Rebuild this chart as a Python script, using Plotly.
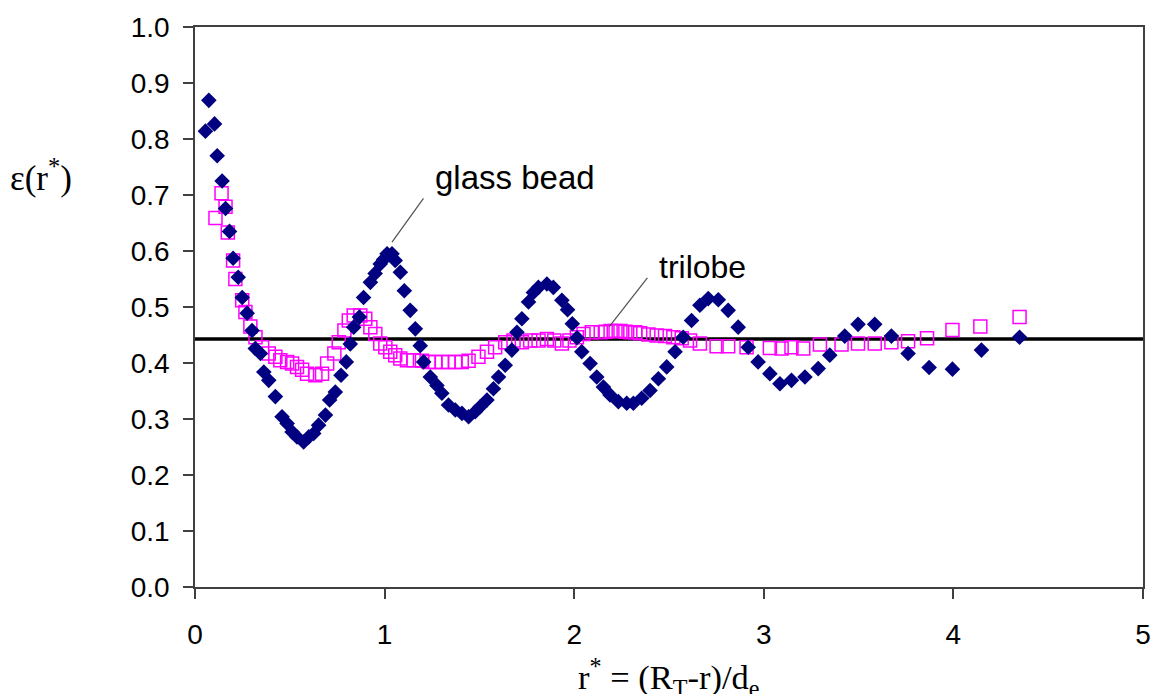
import plotly.graph_objects as go

# ---- data ----
glass_x = [0.055, 0.073, 0.103, 0.117, 0.143, 0.161, 0.182, 0.201, 0.228, 0.249,
           0.275, 0.301, 0.318, 0.345, 0.363, 0.389, 0.424, 0.459, 0.486, 0.512,
           0.538, 0.573, 0.600, 0.626, 0.652, 0.688, 0.710, 0.740, 0.770, 0.798,
           0.819, 0.837, 0.867, 0.889, 0.925, 0.950, 0.977, 0.995, 1.013, 1.039,
           1.056, 1.083, 1.104, 1.135, 1.162, 1.188, 1.206, 1.241, 1.276, 1.302,
           1.337, 1.373, 1.408, 1.443, 1.478, 1.504, 1.540, 1.574, 1.601, 1.636,
           1.671, 1.698, 1.724, 1.759, 1.785, 1.811, 1.856, 1.890, 1.935, 1.965,
           1.990, 2.015, 2.040, 2.084, 2.119, 2.154, 2.189, 2.233, 2.277, 2.312,
           2.356, 2.400, 2.444, 2.488, 2.532, 2.575, 2.619, 2.663, 2.707, 2.760,
           2.812, 2.865, 2.918, 2.970, 3.032, 3.085, 3.146, 3.217, 3.287, 3.348,
           3.427, 3.497, 3.585, 3.673, 3.761, 3.872, 3.995, 4.148, 4.349]
glass_y = [0.814, 0.869, 0.827, 0.770, 0.725, 0.676, 0.635, 0.587, 0.553, 0.517,
           0.489, 0.458, 0.426, 0.417, 0.384, 0.369, 0.340, 0.304, 0.292, 0.277,
           0.268, 0.259, 0.268, 0.274, 0.289, 0.307, 0.334, 0.348, 0.378, 0.402,
           0.434, 0.464, 0.482, 0.517, 0.544, 0.560, 0.577, 0.585, 0.595, 0.595,
           0.583, 0.562, 0.529, 0.494, 0.461, 0.431, 0.402, 0.375, 0.360, 0.346,
           0.325, 0.316, 0.310, 0.304, 0.313, 0.322, 0.334, 0.354, 0.375, 0.396,
           0.423, 0.455, 0.479, 0.509, 0.526, 0.535, 0.541, 0.535, 0.512, 0.495,
           0.470, 0.445, 0.420, 0.399, 0.375, 0.357, 0.343, 0.331, 0.328, 0.328,
           0.337, 0.351, 0.372, 0.393, 0.420, 0.446, 0.476, 0.503, 0.515, 0.513,
           0.494, 0.464, 0.428, 0.402, 0.381, 0.363, 0.369, 0.375, 0.390, 0.414,
           0.448, 0.469, 0.469, 0.448, 0.417, 0.392, 0.389, 0.423, 0.446]

trilobe_x = [0.108, 0.140, 0.161, 0.173, 0.201, 0.213, 0.249, 0.266, 0.292, 0.319,
             0.354, 0.389, 0.424, 0.450, 0.486, 0.512, 0.538, 0.565, 0.591, 0.635,
             0.670, 0.697, 0.735, 0.758, 0.788, 0.811, 0.837, 0.872, 0.898, 0.925,
             0.951, 0.977, 1.004, 1.030, 1.056, 1.083, 1.118, 1.153, 1.197, 1.232,
             1.267, 1.302, 1.337, 1.372, 1.407, 1.443, 1.495, 1.540, 1.583, 1.636,
             1.680, 1.724, 1.768, 1.812, 1.856, 1.895, 1.935, 1.975, 2.014, 2.049,
             2.093, 2.140, 2.166, 2.192, 2.218, 2.244, 2.270, 2.296, 2.322, 2.348,
             2.391, 2.435, 2.479, 2.523, 2.567, 2.611, 2.663, 2.751, 2.812, 2.909,
             3.032, 3.094, 3.146, 3.208, 3.296, 3.410, 3.497, 3.585, 3.673, 3.761,
             3.861, 3.995, 4.142, 4.349]
trilobe_y = [0.659, 0.703, 0.679, 0.633, 0.583, 0.550, 0.512, 0.491, 0.465, 0.446,
             0.428, 0.417, 0.411, 0.405, 0.402, 0.399, 0.393, 0.388, 0.381, 0.378,
             0.381, 0.399, 0.417, 0.437, 0.458, 0.476, 0.485, 0.485, 0.479, 0.464,
             0.452, 0.435, 0.428, 0.420, 0.414, 0.408, 0.405, 0.405, 0.404, 0.402,
             0.402, 0.402, 0.402, 0.402, 0.402, 0.404, 0.411, 0.420, 0.428, 0.437,
             0.440, 0.437, 0.440, 0.440, 0.443, 0.440, 0.435, 0.440, 0.446, 0.452,
             0.455, 0.455, 0.456, 0.457, 0.457, 0.457, 0.456, 0.455, 0.455, 0.453,
             0.451, 0.449, 0.448, 0.446, 0.444, 0.440, 0.435, 0.430, 0.430, 0.428,
             0.427, 0.426, 0.428, 0.426, 0.433, 0.433, 0.435, 0.435, 0.437, 0.439,
             0.444, 0.459, 0.465, 0.482]

mean_x = [0, 5]
mean_y = [0.443, 0.443]

x_ticks = [0, 1, 2, 3, 4, 5]
y_ticks = [0.0, 0.1, 0.2, 0.3, 0.4, 0.5, 0.6, 0.7, 0.8, 0.9, 1.0]

assert len(glass_x) == len(glass_y)
assert len(trilobe_x) == len(trilobe_y)

NAVY = "#000080"
MAGENTA = "#FF00FF"
AXIS = "#404040"
SANS = "Liberation Sans, Arial, sans-serif"
SERIF = "Liberation Serif, Times New Roman, serif"

fig = go.Figure()

fig.add_trace(go.Scatter(
    x=mean_x, y=mean_y, mode="lines",
    line=dict(color="black", width=3.5), hoverinfo="skip", name="mean"))

fig.add_trace(go.Scatter(
    x=trilobe_x, y=trilobe_y, mode="markers", name="trilobe",
    marker=dict(symbol="square-open", size=13, color=MAGENTA,
                line=dict(color=MAGENTA, width=1.5))))

fig.add_trace(go.Scatter(
    x=glass_x, y=glass_y, mode="markers", name="glass bead",
    marker=dict(symbol="diamond", size=12, color=NAVY,
                line=dict(width=0))))

# leader lines
fig.add_shape(type="line", x0=1.039, y0=0.616, x1=1.205, y1=0.694,
              line=dict(color="#505050", width=1.2), xref="x", yref="y")
fig.add_shape(type="line", x0=2.185, y0=0.465, x1=2.386, y1=0.552,
              line=dict(color="#505050", width=1.2), xref="x", yref="y")

fig.add_annotation(x=1.257, y=0.732, xref="x", yref="y", text="glass bead",
                   showarrow=False, xanchor="left", yanchor="middle",
                   font=dict(family=SANS, size=33, color="black"))
fig.add_annotation(x=2.435, y=0.572, xref="x", yref="y", text="trilobe",
                   showarrow=False, xanchor="left", yanchor="middle",
                   font=dict(family=SANS, size=32, color="black"))

# axis titles
fig.add_annotation(x=-0.197, y=0.735, xref="paper", yref="paper",
                   text="ε(r<sup>*</sup>)", showarrow=False,
                   xanchor="left", yanchor="middle",
                   font=dict(family=SERIF, size=35, color="black"))
fig.add_annotation(x=0.5, y=-0.161, xref="paper", yref="paper",
                   text="r<sup>*</sup> = (R<sub>T</sub>-r)/d<sub>e</sub>",
                   showarrow=False, xanchor="center", yanchor="middle",
                   font=dict(family=SERIF, size=34.5, color="black"))

fig.update_layout(
    width=1154, height=694,
    margin=dict(l=194.5, r=10.5, t=26.7, b=106.5, pad=0, autoexpand=False),
    paper_bgcolor="white", plot_bgcolor="white",
    showlegend=False,
    xaxis=dict(range=[0, 5], tickvals=x_ticks, ticktext=[str(v) for v in x_ticks],
               automargin=False,
               showgrid=False, zeroline=False, showline=True, linecolor=AXIS,
               linewidth=1.5, mirror=True, ticks="outside", ticklen=10,
               tickcolor=AXIS, tickwidth=1.5, ticklabelstandoff=12,
               tickfont=dict(family=SANS, size=28, color="black")),
    yaxis=dict(range=[0, 1.0], tickvals=y_ticks,
               ticktext=[f"{v:.1f}" for v in y_ticks],
               automargin=False,
               showgrid=False, zeroline=False, showline=True, linecolor=AXIS,
               linewidth=1.5, mirror=True, ticks="outside", ticklen=10,
               tickcolor=AXIS, tickwidth=1.5, ticklabelstandoff=8,
               tickfont=dict(family=SANS, size=28, color="black")),
)

# remove the default page margin so the figure fills the window exactly
fig.write_html(
    "out.html",
    config={"displayModeBar": False},
    post_script="document.body.style.margin='0';document.body.style.overflow='hidden';",
)
